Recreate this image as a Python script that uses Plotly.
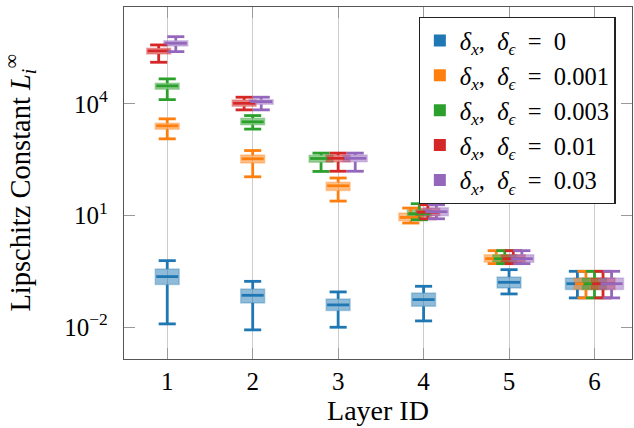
import plotly.graph_objects as go

layers = [1, 2, 3, 4, 5, 6]
series_names = ["0", "0.001", "0.003", "0.01", "0.03"]
colors = ["#1f77b4", "#ff7f0e", "#2ca02c", "#d62728", "#9467bd"]

# per-series box statistics per layer (lower whisker, q1, median, q3, upper whisker)
s0_low = [0.0123, 0.0085, 0.0100, 0.0148, 0.0785, 0.0614]
s0_q1 = [0.140, 0.0451, 0.0280, 0.0365, 0.114, 0.1026]
s0_med = [0.229, 0.0721, 0.0398, 0.0552, 0.161, 0.148]
s0_q3 = [0.368, 0.107, 0.0577, 0.0836, 0.224, 0.211]
s0_high = [0.615, 0.171, 0.0889, 0.126, 0.352, 0.318]

s1_low = [1150, 110, 24.5, 6.3, 0.511, 0.0614]
s1_q1 = [2096, 257, 47, 7.26, 0.553, 0.1026]
s1_med = [2570, 335, 63, 8.9, 0.695, 0.148]
s1_q3 = [3035, 421, 78, 11.7, 0.891, 0.211]
s1_high = [3960, 558, 102, 15.9, 1.14, 0.318]

s2_low = [13000, 2100, 153, 7.7, 0.511, 0.0614]
s2_q1 = [24800, 2730, 270, 9.5, 0.553, 0.1026]
s2_med = [30400, 3290, 341, 11.2, 0.695, 0.148]
s2_q3 = [35900, 4130, 416, 14.4, 0.891, 0.211]
s2_high = [46900, 4850, 476, 20.8, 1.14, 0.318]

s3_low = [131000, 6900, 155, 8.2, 0.511, 0.0614]
s3_q1 = [219000, 8570, 275, 9.9, 0.553, 0.1026]
s3_med = [264000, 10400, 345, 12.3, 0.695, 0.148]
s3_q3 = [312000, 12800, 420, 15.6, 0.891, 0.211]
s3_high = [383000, 15100, 476, 19.5, 1.14, 0.318]

s4_low = [253000, 6900, 155, 8.2, 0.511, 0.0614]
s4_q1 = [359000, 9700, 280, 9.9, 0.553, 0.1026]
s4_med = [425000, 11500, 345, 12.7, 0.695, 0.148]
s4_q3 = [499000, 13000, 420, 16.2, 0.891, 0.211]
s4_high = [638000, 15100, 476, 19.5, 1.14, 0.318]

# dodge offsets (in layer units) used by the original to separate overlapping boxes
s0_dodge = [0, 0, 0, 0, 0, -0.2]
s1_dodge = [0, 0, 0, -0.15, -0.15, -0.1]
s2_dodge = [0, 0, -0.2, -0.05, -0.05, 0]
s3_dodge = [-0.1, -0.1, 0, 0.05, 0.05, 0.1]
s4_dodge = [0.1, 0.1, 0.2, 0.15, 0.15, 0.2]

ytick_vals = [1e-2, 1e1, 1e4]
ytick_text = ["10<sup>−2</sup>", "10<sup>1</sup>", "10<sup>4</sup>"]

stats = [
    (s0_low, s0_q1, s0_med, s0_q3, s0_high, s0_dodge),
    (s1_low, s1_q1, s1_med, s1_q3, s1_high, s1_dodge),
    (s2_low, s2_q1, s2_med, s2_q3, s2_high, s2_dodge),
    (s3_low, s3_q1, s3_med, s3_q3, s3_high, s3_dodge),
    (s4_low, s4_q1, s4_med, s4_q3, s4_high, s4_dodge),
]

BOX_W = 0.28
CAP_W = 0.2
FONT = "'Liberation Serif', 'DejaVu Serif', serif"
SP = "\u2002"  # math-like wider spacing


def rgba(hexc, a):
    h = hexc.lstrip("#")
    r, g, b = int(h[0:2], 16), int(h[2:4], 16), int(h[4:6], 16)
    return f"rgba({r},{g},{b},{a})"


fig = go.Figure()

for k, (lo, q1, md, q3, hi, dg) in enumerate(stats):
    xs = [l + d for l, d in zip(layers, dg)]
    fig.add_trace(go.Box(
        x=xs, q1=q1, median=md, q3=q3, lowerfence=q1, upperfence=q3,
        width=BOX_W, whiskerwidth=0, boxpoints=False,
        fillcolor=rgba(colors[k], 0.5),
        line=dict(color=rgba(colors[k], 0.3), width=1.5),
        showlegend=False, hoverinfo="skip",
    ))

for k, (lo, q1, md, q3, hi, dg) in enumerate(stats):
    xs = [l + d for l, d in zip(layers, dg)]
    px, py = [], []
    for x, a, b, c, d, e in zip(xs, lo, q1, md, q3, hi):
        px += [x, x, None, x - CAP_W / 2, x + CAP_W / 2, None]
        py += [d, e, None, e, e, None]
        px += [x, x, None, x - CAP_W / 2, x + CAP_W / 2, None]
        py += [b, a, None, a, a, None]
        px += [x - BOX_W / 2 + 0.012, x + BOX_W / 2 - 0.012, None]
        py += [c, c, None]
    fig.add_trace(go.Scatter(
        x=px, y=py, mode="lines",
        line=dict(color=colors[k], width=2.8),
        showlegend=False, hoverinfo="skip",
    ))

for k, name in enumerate(series_names):
    fig.add_trace(go.Scatter(
        x=[None], y=[None], mode="markers",
        marker=dict(symbol="square", size=11, color=colors[k]),
        name=(f"<i>δ</i><sub><i>x</i></sub>,{SP}<i>δ</i><sub><i>ϵ</i></sub>"
              f"{SP}={SP}{name}"),
    ))

axis_common = dict(
    showline=True, linecolor="#555555", linewidth=1.3, mirror="ticks",
    ticks="inside", ticklen=11, tickcolor="#9a9a9a", tickwidth=1.3,
    tickfont=dict(family=FONT, size=25, color="black"),
    zeroline=False, automargin=False,
)

fig.update_layout(
    width=634, height=428,
    margin=dict(l=124, r=2, t=7, b=69, autoexpand=False),
    paper_bgcolor="white", plot_bgcolor="white",
    boxmode="overlay",
    font=dict(family=FONT, color="black"),
    xaxis=dict(
        range=[0.494, 6.439], tickvals=layers, ticktext=[str(v) for v in layers],
        showgrid=True, gridcolor="#cccccc", gridwidth=1.3,
        title=dict(text="Layer ID", standoff=3,
                   font=dict(family=FONT, size=28, color="black")),
        **axis_common,
    ),
    yaxis=dict(
        type="log", range=[-2.853, 6.602], tickvals=ytick_vals, ticktext=ytick_text,
        showgrid=False, ticklabelstandoff=10,
        title=dict(text="Lipschitz Constant <i>L</i><sub><i>i</i></sub><sup>∞</sup>",
                   standoff=30, font=dict(family=FONT, size=28.5, color="black")),
        **axis_common,
    ),
    legend=dict(
        x=0.58, y=0.972, xanchor="left", yanchor="top",
        bgcolor="white", bordercolor="#222222", borderwidth=1.2,
        font=dict(family=FONT, size=24.5, color="black"),
        itemsizing="constant", tracegroupgap=0,
    ),
)

fig.write_html("out.html", config={"displayModeBar": False},
               post_script="document.body.style.margin='0';")
